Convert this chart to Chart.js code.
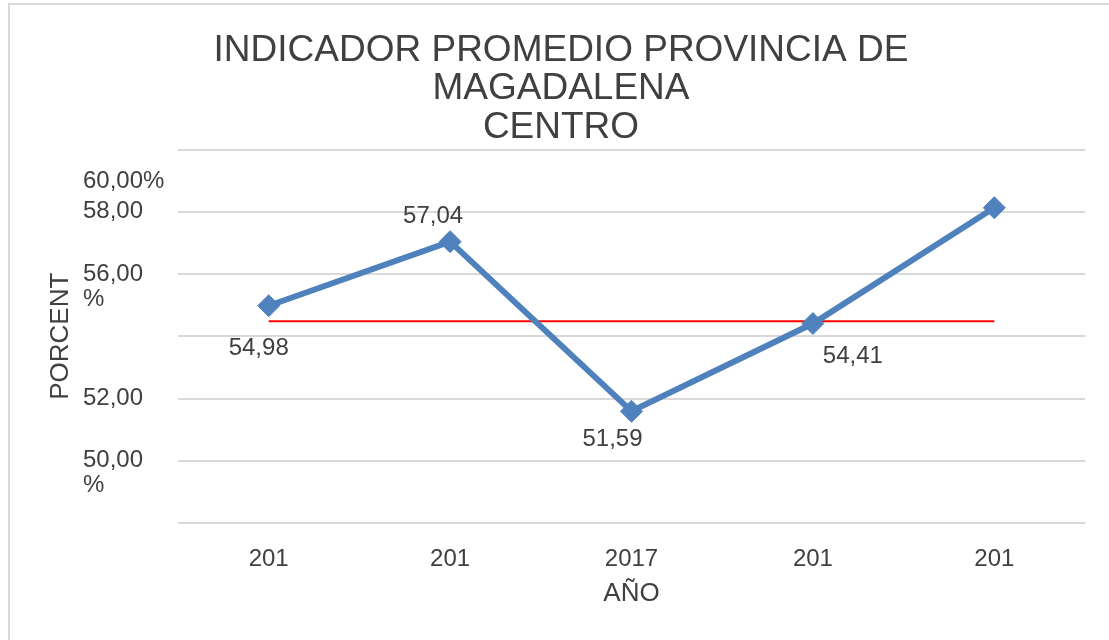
<!DOCTYPE html>
<html lang="es">
<head>
    <meta charset="UTF-8">
    <title>Indicador promedio Provincia de Magdalena Centro</title>
    <style>
        body {
            margin: 0;
            background-color: #fff;
        }

        #wrap {
            position: relative;
            width: 1109px;
            height: 640px;
        }

        #frame {
            position: absolute;
            left: 8px;
            top: 3px;
            right: 0;
            bottom: 0;
            border-left: 2px solid #d9d9d9;
            border-top: 2px solid #d9d9d9;
            pointer-events: none;
        }

        canvas {
            position: absolute;
            left: 0;
            top: 0;
        }
    </style>
    <script src="https://cdn.jsdelivr.net/npm/chart.js"></script>
</head>
<body>
    <div id="wrap">
        <canvas id="chart" width="1109" height="640"></canvas>
        <div id="frame"></div>
    </div>

    <script>
        // data
        const years = ['201', '201', '2017', '201', '201'];
        const indicador = [54.98, 57.04, 51.59, 54.41, 58.13];
        const promedio = [54.48, 54.48, 54.48, 54.48, 54.48];
        const yTickValues = [48, 50, 52, 54, 56, 58, 60];
        const yTickText = ['', ['50,00', '%'], '52,00', '', ['56,00', '%'], '58,00', '60,00%'];
        const pointLabels = ['54,98', '57,04', '51,59', '54,41', ''];

        const FONT = '"Liberation Sans", Arial, sans-serif';
        const TEXT = '#404040';

        // where each value label sits relative to its point
        const labelOffsets = [[-10, 43], [-17, -25], [-19, 28], [40, 33], null];

        const pointLabelPlugin = {
            id: 'pointLabels',
            afterDatasetsDraw(chart) {
                const ctx = chart.ctx;
                const meta = chart.getDatasetMeta(0);
                ctx.save();
                ctx.font = '24px ' + FONT;
                ctx.fillStyle = TEXT;
                ctx.textAlign = 'center';
                ctx.textBaseline = 'middle';
                meta.data.forEach((pt, i) => {
                    const off = labelOffsets[i];
                    if (!off || !pointLabels[i]) return;
                    ctx.fillText(pointLabels[i], pt.x + off[0], pt.y + off[1]);
                });
                ctx.restore();
            }
        };

        new Chart(document.getElementById('chart'), {
            type: 'line',
            data: {
                labels: years,
                datasets: [
                    {
                        label: 'Indicador',
                        data: indicador,
                        borderColor: '#4f81bd',
                        backgroundColor: '#4f81bd',
                        borderWidth: 6,
                        pointStyle: 'rectRot',
                        pointRadius: 11,
                        pointBorderWidth: 1,
                        pointBackgroundColor: '#4f81bd',
                        pointBorderColor: '#4f81bd',
                        tension: 0,
                        order: 1
                    },
                    {
                        label: 'Promedio',
                        data: promedio,
                        borderColor: '#ff0000',
                        borderWidth: 2,
                        pointRadius: 0,
                        order: 2
                    }
                ]
            },
            options: {
                responsive: false,
                animation: false,
                devicePixelRatio: 1,
                layout: { padding: { left: 37, right: 24, top: 0, bottom: 0 } },
                plugins: {
                    legend: { display: false },
                    tooltip: { enabled: false },
                    title: {
                        display: true,
                        text: ['INDICADOR PROMEDIO PROVINCIA DE', 'MAGADALENA', 'CENTRO'],
                        color: TEXT,
                        font: { family: FONT, size: 37, weight: 'normal', lineHeight: 1.05 },
                        padding: { top: 31, bottom: 2 }
                    }
                },
                scales: {
                    x: {
                        offset: true,
                        grid: { display: false },
                        border: { display: false },
                        ticks: {
                            color: TEXT,
                            font: { family: FONT, size: 24 },
                            padding: 14,
                            maxRotation: 0,
                            autoSkip: false
                        },
                        title: {
                            display: true,
                            text: 'AÑO',
                            color: TEXT,
                            font: { family: FONT, size: 26 },
                            padding: { top: 0, bottom: 31 }
                        },
                        afterFit(scale) { scale.height = 117; }
                    },
                    y: {
                        min: 48,
                        max: 60,
                        grid: { color: '#d9d9d9', lineWidth: 2, drawTicks: false },
                        border: { display: false },
                        ticks: {
                            stepSize: 2,
                            autoSkip: false,
                            mirror: true,
                            crossAlign: 'near',
                            padding: -95,
                            color: TEXT,
                            font: (c) => ({
                                family: FONT,
                                size: 24,
                                lineHeight: c.tick && c.tick.value === 60 ? 32 / 24 : 25 / 24
                            }),
                            callback(value) {
                                const t = yTickText[yTickValues.indexOf(value)];
                                if (value === 60) return ['', '', t];
                                if (Array.isArray(t)) return ['', ...t];
                                return t;
                            }
                        },
                        title: {
                            display: true,
                            text: 'PORCENT',
                            color: TEXT,
                            font: { family: FONT, size: 26 },
                            padding: { top: 8, bottom: 0 }
                        },
                        afterFit(scale) { scale.width = 141; }
                    }
                }
            },
            plugins: [pointLabelPlugin]
        });
    </script>
</body>
</html>
